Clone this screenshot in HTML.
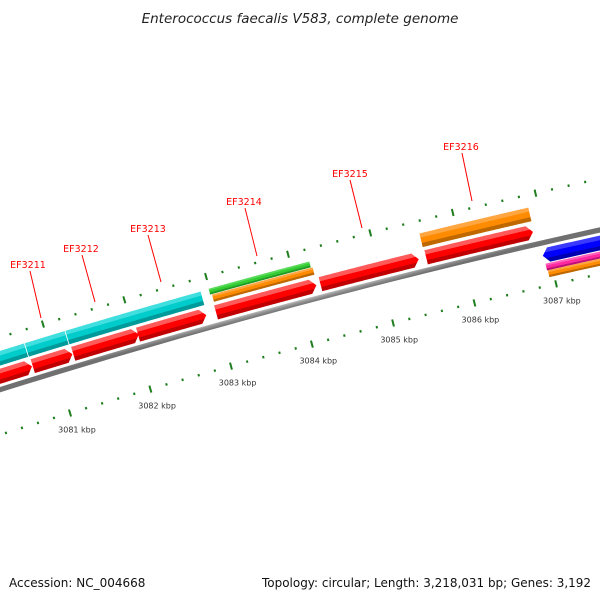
<!DOCTYPE html>
<html><head><meta charset="utf-8"><style>
html,body{margin:0;padding:0;background:#fff;}
svg{display:block;}
</style></head><body>
<svg id="map" width="600" height="600" viewBox="0 0 600 600" xmlns="http://www.w3.org/2000/svg" font-family="DejaVu Sans, sans-serif">
<rect width="600" height="600" fill="#fff"/>
<defs id="defs"></defs>
<text x="300" y="23" text-anchor="middle" font-size="13.5" font-style="italic" fill="#222">Enterococcus faecalis V583, complete genome</text>
<g id="plot"></g>
<text x="9" y="587" font-size="12" fill="#111">Accession: NC_004668</text>
<text x="591" y="587" text-anchor="end" font-size="12" fill="#111" textLength="329" lengthAdjust="spacingAndGlyphs">Topology: circular; Length: 3,218,031 bp; Genes: 3,192</text>
</svg>
<script>
// data (kbp)
const tickLabels = [3081, 3082, 3083, 3084, 3085, 3086, 3087];
const fwdRedStart = [3079.9, 3080.74, 3081.24, 3082.04, 3083.00, 3084.28, 3085.57];
const fwdRedEnd   = [3080.73, 3081.23, 3082.05, 3082.88, 3084.23, 3085.48, 3086.87];
const cyanStart = [3079.9, 3080.73, 3081.23];
const cyanEnd   = [3080.72, 3081.22, 3082.89];
const greenStart = [3082.99]; const greenEnd = [3084.22];
const orangeFStart = [3083.01, 3085.56]; const orangeFEnd = [3084.24, 3086.88];
const blueStart = [3086.92]; const blueEnd = [3088.2];
const pinkStart = [3086.93]; const pinkEnd = [3088.2];
const orangeRStart = [3086.94]; const orangeREnd = [3088.2];
const geneNames = ['EF3211','EF3212','EF3213','EF3214','EF3215','EF3216'];

const NS='http://www.w3.org/2000/svg';
const plot=document.getElementById('plot');
const defs=document.getElementById('defs');
const cx=2119, cy=7142, R0=7034, K=0.01192;
const a0=Math.atan2(413-cy,70-cx);
const RB=7077, ROUT=7127;
function ang(k){return a0+(k-3081)*K;}
function pt(k,r){const a=ang(k);return [cx+r*Math.cos(a), cy+r*Math.sin(a)];}
function mk(tag,attrs){const e=document.createElementNS(NS,tag);for(const a in attrs)e.setAttribute(a,attrs[a]);return e;}
let gid=0;
function arcPts(k1,k2,r){const p=[];const n=60;for(let i=0;i<=n;i++){p.push(pt(k1+(k2-k1)*i/n,r));}return p;}
const toS=p=>p.map(q=>q[0].toFixed(2)+','+q[1].toFixed(2)).join(' ');

// backbone
(function(){
  const lg=mk('linearGradient',{id:'bb',gradientUnits:'userSpaceOnUse'});
  const p1=pt(3084,RB-3),p2=pt(3084,RB+3);
  lg.setAttribute('x1',p1[0]);lg.setAttribute('y1',p1[1]);lg.setAttribute('x2',p2[0]);lg.setAttribute('y2',p2[1]);
  [['0','#707070'],['0.5','#909090'],['1','#c4c4c4']].forEach(s=>lg.appendChild(mk('stop',{offset:s[0],'stop-color':s[1]})));
  defs.appendChild(lg);
  const pts=arcPts(3078.5,3089,RB+2.6).concat(arcPts(3089,3078.5,RB-2.6));
  const e=mk('polygon',{points:toS(pts),fill:'url(#bb)'});
  
  
  plot.appendChild(e);
})();

// ticks
function ring(r,name,labels){
  const g=mk('g',{});
  
  
  plot.appendChild(g);
  for(let i=0;i<=50;i++){
    const k=3078.4+i*0.2; const kr=Math.round(k*5)/5;
    const major=Math.abs(kr-Math.round(kr))<1e-6;
    const L=major?3.6:1.2;
    const a=pt(kr,r-L),b=pt(kr,r+L);
    const l=mk('line',{x1:a[0],y1:a[1],x2:b[0],y2:b[1],stroke:'#1e7e1e','stroke-width':2});
    
    
    g.appendChild(l);
  }
  if(labels){
    tickLabels.forEach(t=>{
      const p=pt(t,r-17);
      const tx=mk('text',{x:(p[0]+2).toFixed(1),y:(p[1]+3).toFixed(1),'text-anchor':'middle','font-size':'8',fill:'#333'});
      tx.textContent=t+' kbp';
      
      
      g.appendChild(tx);
    });
  }
}
ring(R0,'inner-tick-ring',true);
ring(ROUT,'outer-tick-ring',false);

// features
function feature(k1,k2,o1,o2,dir,cols,name){
  const r1=RB+o1,r2=RB+o2,rm=(r1+r2)/2;
  const hk=6/(RB*K);
  let pts;
  if(dir>0){pts=arcPts(k1,k2-hk,r1).concat([pt(k2,rm)]).concat(arcPts(k2-hk,k1,r2));}
  else if(dir<0){pts=[pt(k1,rm)].concat(arcPts(k1+hk,k2,r1)).concat(arcPts(k2,k1+hk,r2));}
  else {pts=arcPts(k1,k2,r1).concat(arcPts(k2,k1,r2));}
  const id='g'+(gid++);
  const km=(k1+k2)/2, p1=pt(km,r1), p2=pt(km,r2);
  const lg=mk('linearGradient',{id:id,gradientUnits:'userSpaceOnUse',x1:p1[0],y1:p1[1],x2:p2[0],y2:p2[1]});
  [['0',cols[2]],['0.28',cols[2]],['0.3',cols[0]],['0.68',cols[0]],['0.7',cols[1]],['1',cols[1]]].forEach(s=>lg.appendChild(mk('stop',{offset:s[0],'stop-color':s[1]})));
  defs.appendChild(lg);
  const e=mk('polygon',{points:toS(pts),fill:'url(#'+id+')'});
  
  
  plot.appendChild(e);
}
const RED=['#ff0000','#ff5a5a','#c00000'], CY=['#00cccc','#40dede','#009a9a'],
 OR=['#ff8c00','#ffa640','#c06800'], GR=['#33cc33','#5ada5a','#229922'],
 BL=['#0000ff','#3a3aff','#0000b0'], PK=['#ff2aa0','#ff60bb','#c0107a'];
fwdRedStart.forEach((s,i)=>feature(s,fwdRedEnd[i],5.5,20,1,RED,'forward-cds-'+i));
cyanStart.forEach((s,i)=>feature(s,cyanEnd[i],23,37,0,CY,'cyan-feature-'+i));
greenStart.forEach((s,i)=>feature(s,greenEnd[i],31.5,37.5,0,GR,'green-feature-'+i));
feature(orangeFStart[0],orangeFEnd[0],23.5,31,0,OR,'orange-feature-0');
feature(orangeFStart[1],orangeFEnd[1],23.5,37.5,0,OR,'orange-feature-1');
blueStart.forEach((s,i)=>feature(s,blueEnd[i],-20,-5.5,-1,BL,'reverse-cds-'+i));
pinkStart.forEach((s,i)=>feature(s,pinkEnd[i],-28,-21,0,PK,'pink-feature-'+i));
orangeRStart.forEach((s,i)=>feature(s,orangeREnd[i],-35,-28,0,OR,'reverse-orange-feature-'+i));

// gene labels (annotation positions)
const labelPos=[[28,268,30,271,41,318],[81,252,82,255,95,302],[148,232,148,235,161,282],[244,205,245,208,257,256],[350,177,350,180,362,228],[461,150,462,153,472,201]];
geneNames.forEach((n,i)=>{
  const q=labelPos[i];
  const l=mk('line',{x1:q[2],y1:q[3],x2:q[4],y2:q[5],stroke:'#ff0000','stroke-width':1});
  
  
  plot.appendChild(l);
  const t=mk('text',{x:q[0],y:q[1],'text-anchor':'middle','font-size':'9.5',fill:'#ff0000'});
  t.textContent=n;
  
  
  plot.appendChild(t);
});
</script>
</body></html>
